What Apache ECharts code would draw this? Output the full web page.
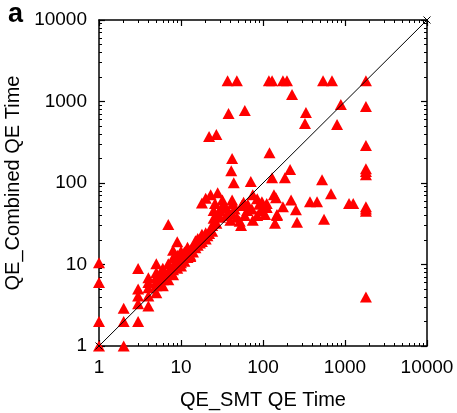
<!DOCTYPE html>
<html><head><meta charset="utf-8">
<script src="https://cdn.jsdelivr.net/npm/echarts@6/dist/echarts.min.js"></script>
<style>html,body{margin:0;padding:0;background:#fff}#c{width:457px;height:413px}</style>
</head><body><div id="c"></div>
<script>
// Panel text
const panelLabel = 'a';
const xTitle = 'QE_SMT QE Time';
const yTitle = 'QE_Combined QE Time';
const axisMin = 1;
const axisMax = 10000;

// Per-benchmark run times (x: QE_SMT, y: QE_Combined)
const smtTime = [
  37, 48, 118, 129, 175, 196, 540, 694, 1800,
  226, 890, 1800, 334, 325, 800, 1800, 38, 60, 22, 27, 42, 41, 120, 214, 1800, 1800, 1800,
  129, 185, 525, 675, 136, 144, 220, 374, 456, 1120, 1260, 1800, 1800, 1800, 97, 111, 111, 175, 252, 106, 148, 555, 140, 260,
  44, 71, 23, 28, 18, 26, 32, 42, 43, 55, 75, 85, 64, 73, 94, 108, 25, 30, 25, 36, 42, 52, 75, 148, 27, 54, 24, 20, 35, 38, 30, 45, 60, 48, 33, 28, 85, 65, 90, 40, 58, 1800,
  1, 1, 1, 1, 2, 2, 2, 3, 3, 3, 3, 4, 4, 4, 4, 5, 5, 5, 5, 6, 6, 6, 7, 7, 7, 7, 8, 8, 8, 8, 9, 9, 9, 9,
  10, 10, 11, 11, 12, 12, 13, 13, 14, 14, 15, 15, 16, 17, 18, 18, 20, 21, 22, 24,
  6, 5, 6, 7, 8, 10, 11, 12, 15, 16, 18, 20, 4, 3, 5, 9, 10, 13
];
const combinedTime = [
  1800, 1800, 1800, 1800, 1800, 1800, 1800, 1800, 1800,
  1220, 920, 870, 735, 537, 523, 288, 714, 777, 372, 394, 200, 141, 235, 146, 150, 138, 126,
  116, 116, 110, 74, 72, 66, 62, 59, 59, 56, 56, 51, 48, 45, 59, 56, 50, 51, 47, 41, 41, 36, 32, 33,
  101, 104, 72, 76, 57, 56, 62, 62, 56, 53, 72, 64, 46, 48, 46, 51, 46, 46, 37, 40, 42, 34, 35, 40, 32, 30, 30, 65, 50, 45, 38, 48, 40, 38, 55, 42, 40, 55, 55, 35, 58, 4,
  1, 2, 6, 10.5, 1, 2, 2.9, 2, 3.3, 4.1, 8.9, 3.1, 4.1, 5.2, 6.9, 4.5, 5.5, 10.2, 6.2, 5.5, 6.5, 7.2, 6.5, 7.6, 8.2, 31, 7.5, 8.6, 9.6, 15, 9, 10.2, 19, 11.5,
  10.5, 12.3, 11, 12.8, 12.2, 14, 13, 15.2, 14.2, 16.4, 16, 17.5, 17.2, 18.3, 19.2, 21.5, 20.5, 22.5, 24, 25.5,
  9, 8, 8.2, 10.2, 12, 14.5, 14.2, 16.3, 19.5, 20.8, 23.5, 24.5, 6, 5, 7, 13, 9.6, 12.5
];
// Equal-time reference line endpoints
const diagonal = [axisMin, axisMax];

const points = smtTime.map((x, i) => [x, combinedTime[i]]);
const font = 'Liberation Sans, Arial, sans-serif';
const plainNumber = v => String(Math.round(v));

function logAxis(pos, showLabel, name, nameGap) {
  return {
    type: 'log', logBase: 10, min: axisMin, max: axisMax, position: pos,
    axisLine: { show: true, onZero: false, lineStyle: { color: '#000', width: 1.5 } },
    axisTick: { show: true, inside: true, length: 6, lineStyle: { color: '#000', width: 1.2 } },
    minorTick: { show: true, splitNumber: 9, length: 3, lineStyle: { color: '#000', width: 1 } },
    splitLine: { show: false },
    minorSplitLine: { show: false },
    axisLabel: { show: showLabel, color: '#000', fontSize: 19, fontFamily: font, margin: 12, formatter: plainNumber },
    name: name, nameLocation: 'middle', nameGap: nameGap,
    nameTextStyle: { color: '#000', fontSize: 20, fontFamily: font }
  };
}

const chart = echarts.init(document.getElementById('c'), null, { renderer: 'canvas' });
chart.setOption({
  animation: false,
  backgroundColor: '#fff',
  title: {
    text: panelLabel, left: 3, top: -4,
    textStyle: { fontSize: 27, fontWeight: 'bold', color: '#000', fontFamily: font }
  },
  grid: { left: 99, right: 30, top: 20, bottom: 67, containLabel: false, outerBoundsMode: 'none' },
  xAxis: [
    logAxis('bottom', true, xTitle, 44),
    logAxis('top', false, '', 0)
  ],
  yAxis: [
    logAxis('left', true, yTitle, 69),
    logAxis('right', false, '', 0)
  ],
  series: [
    {
      type: 'scatter', data: points, symbol: 'triangle', symbolSize: [12, 11],
      itemStyle: { color: '#ff0000', opacity: 1 }, z: 2
    },
    {
      type: 'line', data: diagonal.map(v => [v, v]),
      symbol: 'path://M0,0L10,10M10,0L0,10', symbolSize: 7, showSymbol: true,
      lineStyle: { color: '#000', width: 1 },
      itemStyle: { color: 'none', borderColor: '#000', borderWidth: 1 },
      z: 3
    }
  ]
});
</script>
</body></html>
